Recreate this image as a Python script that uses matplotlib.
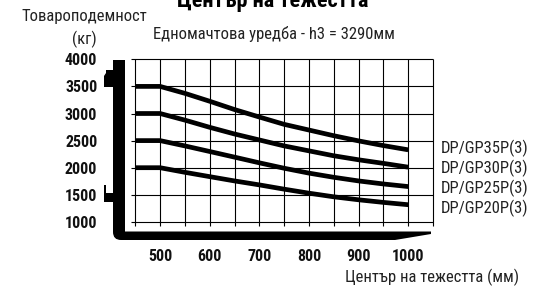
import matplotlib
matplotlib.use("Agg")
import matplotlib.pyplot as plt
from matplotlib.path import Path
from matplotlib.patches import PathPatch, Polygon

W, H = 544, 288
FONT = ['Roboto Condensed', 'DejaVu Sans']

# ---- data ----
centers = [450, 500, 550, 600, 650, 700, 750, 800, 850, 900, 950, 1000]
dp35 = [3500, 3500, 3372, 3226, 3073, 2935, 2800, 2695, 2590, 2495, 2408, 2330]
dp30 = [3000, 3000, 2878, 2745, 2622, 2512, 2402, 2311, 2220, 2146, 2080, 2010]
dp25 = [2500, 2500, 2402, 2299, 2195, 2090, 1990, 1900, 1823, 1756, 1700, 1652]
dp20 = [2000, 2000, 1915, 1835, 1756, 1683, 1604, 1530, 1463, 1408, 1360, 1317]
series = [dp35, dp30, dp25, dp20]
series_names = ["DP/GP35P(3)", "DP/GP30P(3)", "DP/GP25P(3)", "DP/GP20P(3)"]
x_ticks = [500, 600, 700, 800, 900, 1000]
y_ticks = [1000, 1500, 2000, 2500, 3000, 3500, 4000]
grid_x = list(range(450, 1051, 50))

title = "Център на тежестта"
subtitle = "Едномачтова уредба - h3 = 3290мм"
ylabel1 = "Товароподемност"
ylabel2 = "(кг)"
xlabel = "Център на тежестта (мм)"

fig = plt.figure(figsize=(W / 100, H / 100), dpi=100)

def fx(x):
    return x / W

def fy(y):
    return 1 - y / H

# axes geometry in pixels
x_lo, x_hi = 442, 1050
y_lo, y_hi = 930, 4000
px_left = 131.3
px_right = 433.0
px_top = 59.3
px_bottom = 225.7
ax = fig.add_axes([fx(px_left), fy(px_bottom), (px_right - px_left) / W,
                   (px_bottom - px_top) / H])
ax.set_xlim(x_lo, x_hi)
ax.set_ylim(y_lo, y_hi)
for s in ax.spines.values():
    s.set_visible(False)

# grid
ax.vlines(grid_x, y_lo, y_hi, colors='black', lw=0.8, clip_on=False, zorder=1)
ax.hlines(y_ticks, x_lo, x_hi, colors='black', lw=0.8, clip_on=False, zorder=1)

# curves
for vals in series:
    ax.plot(centers, vals, color='black', lw=3.4, solid_capstyle='butt',
            solid_joinstyle='round', zorder=3, clip_on=False)

ax.set_xticks(x_ticks)
ax.set_xticklabels([str(v) for v in x_ticks])
ax.set_yticks(y_ticks)
ax.set_yticklabels([str(v) for v in y_ticks])
ax.tick_params(length=0)
ax.tick_params(axis='x', pad=17)
ax.tick_params(axis='y', pad=24.5)
for lab in ax.get_xticklabels() + ax.get_yticklabels():
    lab.set_fontfamily(FONT)
    lab.set_fontweight('bold')
    lab.set_fontsize(11.5)
    lab.set_color('#111111')

# series labels at right
label_y = [148, 168, 188, 208]
for name, yy in zip(series_names, label_y):
    fig.text(fx(441), fy(yy), name, family=FONT, fontsize=12, color='#222222',
             ha='left', va='center')

# texts
fig.text(fx(273), fy(7.0), title, family=FONT, fontsize=16, fontweight='bold',
         ha='center', va='baseline', color='black')
fig.text(fx(153), fy(34), subtitle, family=FONT, fontsize=12, ha='left',
         va='center', color='#222222')
fig.text(fx(84), fy(16), ylabel1, family=FONT, fontsize=12, ha='center',
         va='center', color='#222222')
fig.text(fx(84), fy(39), ylabel2, family=FONT, fontsize=12, ha='center',
         va='center', color='#222222')
fig.text(fx(345), fy(277), xlabel, family=FONT, fontsize=12, ha='left',
         va='center', color='#222222')

# decorative mast frame in an overlay
ov = fig.add_axes([0, 0, 1, 1], zorder=-1)
ov.set_xlim(0, W)
ov.set_ylim(H, 0)
ov.axis('off')
verts = [(113, 60), (125, 60), (125, 231.5), (431, 231.5), (431, 234),
         (395, 240), (121, 240), (113, 240), (113, 232), (113, 60)]
codes = [Path.MOVETO, Path.LINETO, Path.LINETO, Path.LINETO, Path.LINETO,
         Path.LINETO, Path.LINETO, Path.CURVE3, Path.CURVE3, Path.CLOSEPOLY]
ov.add_patch(PathPatch(Path(verts, codes), facecolor='black', edgecolor='none'))
ov.add_patch(Polygon([(106, 70), (113, 70), (113, 87), (104, 87), (104, 76), (106, 73)],
                     closed=True, facecolor='black', edgecolor='none'))
ov.add_patch(Polygon([(104, 185), (106, 185), (106, 193), (113, 193), (113, 202), (104, 202)],
                     closed=True, facecolor='black', edgecolor='none'))

fig.savefig("out.png", dpi=100)
